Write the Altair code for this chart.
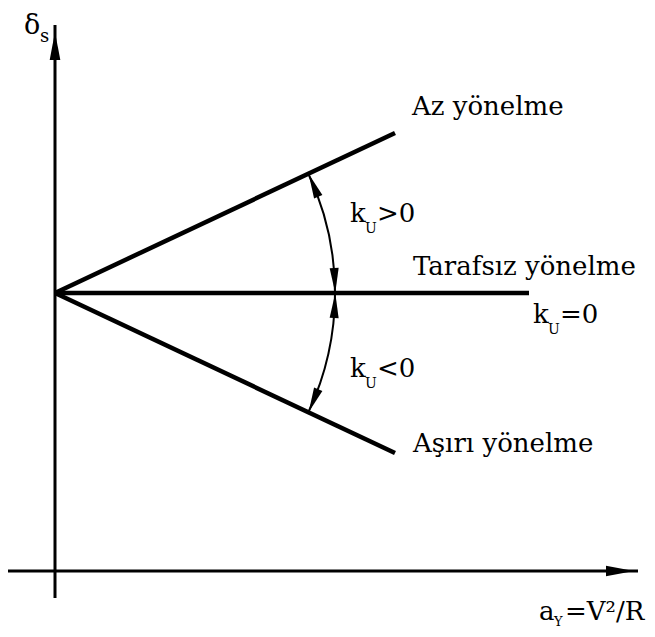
import altair as alt
import pandas as pd
import numpy as np

# --- schematic values (x: lateral acceleration a_Y, y: steer angle delta_s) ---
origin_x, origin_y = 0, 278
line_names = ["Az yönelme", "Tarafsız yönelme", "Aşırı yönelme"]
line_end_x = [340, 474, 340]
line_end_y = [438, 278, 118]

x_axis_from, x_axis_to = -48, 583
y_axis_from, y_axis_to = -27, 546
arc_radius = 280

# labels
label_text = ["Az yönelme", "Tarafsız yönelme", "Aşırı yönelme"]
label_x = [357, 358, 358]
label_y = [456, 296, 119]

k_main = ["k", "k", "k"]
k_sub = ["U", "U", "U"]
k_rest = [">0", "=0", "<0"]
k_x = [295, 478, 295]
k_y = [349, 248, 194]

# ---------------------------------------------------------------------------
xs = alt.Scale(domain=[-47, 592], nice=False, zero=False)
ys = alt.Scale(domain=[-58, 563], nice=False, zero=False)
X = lambda f: alt.X(f, type="quantitative", scale=xs, axis=None)
Y = lambda f: alt.Y(f, type="quantitative", scale=ys, axis=None)

axes_df = pd.DataFrame({
    "x": [x_axis_from, 0], "y": [0, y_axis_from],
    "x2": [x_axis_to, 0], "y2": [0, y_axis_to],
})
axes = alt.Chart(axes_df).mark_rule(color="black", strokeWidth=3, strokeCap="butt").encode(
    x=X("x"), y=Y("y"), x2="x2", y2="y2")

lines_df = pd.DataFrame({
    "name": line_names,
    "x": [origin_x] * 3, "y": [origin_y] * 3,
    "x2": line_end_x, "y2": line_end_y,
})
lines = alt.Chart(lines_df).mark_rule(color="black", strokeWidth=4.5, strokeCap="butt").encode(
    x=X("x"), y=Y("y"), x2="x2", y2="y2")

# arc between upper and lower lines (angles from the line directions)
phi_up = np.degrees(np.arctan2(line_end_y[0] - origin_y, line_end_x[0] - origin_x))
phi_lo = np.degrees(np.arctan2(line_end_y[2] - origin_y, line_end_x[2] - origin_x))
arc_df = pd.DataFrame({
    "x": [origin_x], "y": [origin_y],
    "t1": [np.radians(90 - phi_up)], "t2": [np.radians(90 - phi_lo)],
})
arc = alt.Chart(arc_df).mark_arc(radius=arc_radius, radius2=arc_radius, filled=False,
                                 stroke="black", strokeWidth=2).encode(
    x=X("x"), y=Y("y"),
    theta=alt.Theta("t1:Q", scale=None, stack=None),
    theta2=alt.Theta2("t2:Q"))

# arrowheads on the arc (tip on the line, pointing along the arc)
head_len = 25
dphi = np.degrees(head_len / 2 / arc_radius)
tips = [phi_up, 0.0, 0.0, phi_lo]
dirs = [1, -1, 1, -1]
centers = [t - d * dphi for t, d in zip(tips, dirs)]
heads_df = pd.DataFrame({
    "x": [origin_x + arc_radius * np.cos(np.radians(c)) for c in centers],
    "y": [origin_y + arc_radius * np.sin(np.radians(c)) for c in centers],
    "a": [(-c) % 360 if d == 1 else (180 - c) % 360 for c, d in zip(centers, dirs)],
})
heads = alt.Chart(heads_df).mark_point(
    shape="M0,-1L0.36,1L-0.36,1Z", filled=True, color="black", opacity=1,
    size=head_len ** 2, strokeWidth=0).encode(
    x=X("x"), y=Y("y"), angle=alt.Angle("a:Q", scale=None))

# axis arrowheads
ax_heads_df = pd.DataFrame({"x": [565, 0], "y": [0, 525], "a": [90, 0]})
ax_heads = alt.Chart(ax_heads_df).mark_point(
    shape="M0,-1L0.38,1L-0.38,1Z", filled=True, color="black", opacity=1,
    size=28 ** 2, strokeWidth=0).encode(
    x=X("x"), y=Y("y"), angle=alt.Angle("a:Q", scale=None))

FONT = "DejaVu Serif"

def text_layer(df, size):
    return alt.Chart(df).mark_text(font=FONT, fontSize=size, align="left",
                                   baseline="alphabetic", color="black").encode(
        x=X("x"), y=Y("y"), text="t:N")

labels = text_layer(pd.DataFrame({"t": label_text, "x": label_x, "y": label_y}), 26)

k_big = text_layer(pd.DataFrame({"t": k_main, "x": k_x, "y": k_y}), 26)
k_small = text_layer(pd.DataFrame({"t": k_sub, "x": [v + 15 for v in k_x],
                                   "y": [v - 11 for v in k_y]}), 14)
k_tail = text_layer(pd.DataFrame({"t": k_rest, "x": [v + 27 for v in k_x], "y": k_y}), 26)

delta_big = text_layer(pd.DataFrame({"t": ["δ"], "x": [-31], "y": [537]}), 27)
delta_small = text_layer(pd.DataFrame({"t": ["s"], "x": [-15], "y": [529]}), 18)

ay_big = text_layer(pd.DataFrame({"t": ["a"], "x": [484], "y": [-49]}), 26)
ay_small = text_layer(pd.DataFrame({"t": ["Y"], "x": [499], "y": [-55]}), 13)
ay_tail = text_layer(pd.DataFrame({"t": ["=V²/R"], "x": [510], "y": [-49]}), 26)

chart = alt.layer(
    axes, lines, arc, heads, ax_heads, labels, k_big, k_small, k_tail,
    delta_big, delta_small, ay_big, ay_small, ay_tail
).properties(
    width=639, height=621, padding=0, autosize=alt.AutoSizeParams(type="none")
).configure_view(strokeWidth=0)

chart.save("out.html", embed_options={"renderer": "svg", "actions": False})
